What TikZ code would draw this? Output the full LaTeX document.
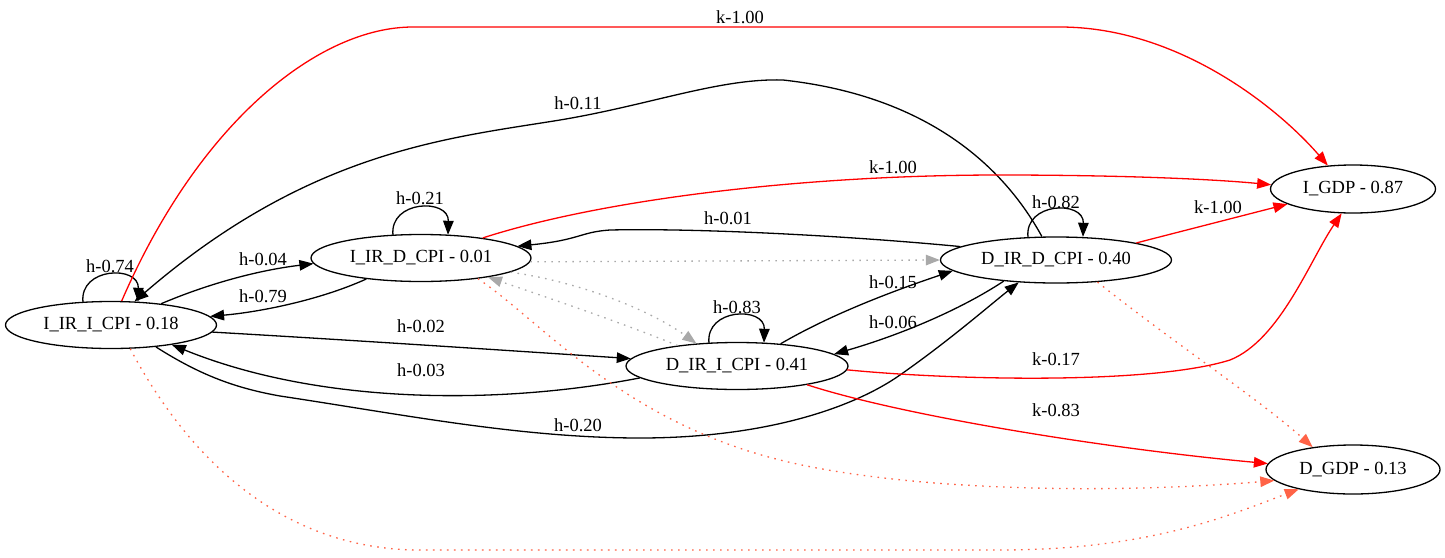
\documentclass[tikz,border=0pt]{standalone}
\usepackage{fontspec}
\setmainfont{Liberation Serif}
\usetikzlibrary{shapes.geometric,arrows.meta,calc}

\definecolor{kred}{HTML}{FF0000}
\definecolor{tomato}{HTML}{FF6347}
\definecolor{softgray}{HTML}{A9A9A9}

% self loop drawn on top of a state
\newcommand\selfloop[1]{%
  \draw[edge] ($(#1.center)+(-28,-22.6)$)
    .. controls ($(#1.center)+(-32,-58)$) and ($(#1.center)+(28,-60)$)
    .. ($(#1.center)+(27,-23.2)$);}

\begin{document}
\begin{tikzpicture}[x=1pt,y=-1pt,
  txt/.style={font=\fontsize{18.5}{20}\selectfont},
  state/.style={ellipse,draw,line width=1.3pt,inner sep=0pt,minimum height=47pt,txt},
  lbl/.style={inner sep=0pt,txt},
  edge/.style={-{Triangle[length=14pt,width=10.5pt]},line width=1.3pt,black},
  kedge/.style={edge,kred},
  dotedge/.style={edge,dash pattern=on 1.6pt off 5.4pt},
  grayedge/.style={dotedge,softgray},
  tomedge/.style={dotedge,tomato}]

\useasboundingbox (0,0) rectangle (1445,557);

% states
\node[state,minimum width=211pt] (A) at (111,325)   {I\_IR\_I\_CPI - 0.18};
\node[state,minimum width=220pt] (B) at (421,258)   {I\_IR\_D\_CPI - 0.01};
\node[state,minimum width=222pt] (C) at (737,366)   {D\_IR\_I\_CPI - 0.41};
\node[state,minimum width=231pt,minimum height=46pt] (D) at (1056,260) {D\_IR\_D\_CPI - 0.40};
\node[state,minimum width=165pt,minimum height=48pt] (E) at (1353,189) {I\_GDP - 0.87};
\node[state,minimum width=174pt,minimum height=49pt] (F) at (1353,469.5) {D\_GDP - 0.13};

% self loops
\selfloop{A}
\selfloop{B}
\selfloop{C}
\selfloop{D}

% h edges
\draw[edge] (D.121) .. controls (1000,160) and (920,95) .. (783,80)
  .. controls (720,78) and (650,105) .. (560,120)
  .. controls (450,138) and (310,150) .. (A.45);
\draw[edge] (D.172) .. controls (850,236) and (700,228) .. (610,230)
  .. controls (580,232) and (580,240) .. (B.7);
\draw[edge] (A.23) .. controls (210,283) and (260,270) .. (B.183);
\draw[edge] (B.201) .. controls (320,300) and (260,312) .. (A.5);
\draw[edge] (A.-4) .. controls (350,340) and (500,350) .. (C.176);
\draw[edge] (C.187) .. controls (500,405) and (320,405) .. (A.-18);
\draw[edge] (A.-26) .. controls (200,375) and (235,388) .. (280,396)
  .. controls (400,414) and (520,438) .. (640,438)
  .. controls (760,438) and (850,410) .. (900,375)
  .. controls (950,340) and (990,305) .. (D.211);
\draw[edge] (C.27) .. controls (830,315) and (890,292) .. (D.186);
\draw[edge] (D.202.5) .. controls (960,310) and (900,335) .. (C.7);

% k edges
\draw[kedge] (A.66) .. controls (200,120) and (320,27) .. (413,27) -- (1060,27)
  .. controls (1180,27) and (1280,110) .. (E.137);
\draw[kedge] (B.18) .. controls (600,200) and (800,175) .. (1000,175)
  .. controls (1100,175) and (1200,178) .. (E.177);
\draw[kedge] (D.12.5) -- (E.193);
\draw[kedge] (C.-2) .. controls (950,380) and (1150,385) .. (1230,360)
  .. controls (1280,340) and (1310,260) .. (E.245);
\draw[kedge] (C.-15) .. controls (900,415) and (1100,448) .. (F.176);

% dotted edges
\draw[grayedge] (B.-2) -- (D.180);
\draw[grayedge] (B.-9) .. controls (580,282) and (650,310) .. (C.151);
\draw[grayedge] (C.161) .. controls (620,322) and (540,295) .. (B.-16);
\draw[tomedge] (B.-20) .. controls (540,320) and (620,420) .. (780,460)
  .. controls (900,490) and (1100,495) .. (F.188);
\draw[tomedge] (A.-51) .. controls (200,480) and (300,550) .. (420,550) -- (1000,550)
  .. controls (1150,550) and (1230,515) .. (F.200);
\draw[tomedge] (D.-28) .. controls (1170,340) and (1260,400) .. (F.151);

% labels
\node[lbl] (lAE)  at (740,17)   {k-1.00};
\node[lbl] (lDA)  at (578,103)  {h-0.11};
\node[lbl] (lBE)  at (893,167)  {k-1.00};
\node[lbl] (lDB)  at (728,218)  {h-0.01};
\node[lbl] (lDE)  at (1218,207) {k-1.00};
\node[lbl] (lDD)  at (1056,202) {h-0.82};
\node[lbl] (lBB)  at (420,198)  {h-0.21};
\node[lbl] (lAA)  at (110,266)  {h-0.74};
\node[lbl] (lAB)  at (263,259)  {h-0.04};
\node[lbl] (lBA)  at (263,296)  {h-0.79};
\node[lbl] (lAC)  at (421,326)  {h-0.02};
\node[lbl] (lCA)  at (421,370)  {h-0.03};
\node[lbl] (lAD)  at (578,425)  {h-0.20};
\node[lbl] (lCC)  at (737,307)  {h-0.83};
\node[lbl] (lCD)  at (893,282)  {h-0.15};
\node[lbl] (lDC)  at (893,322)  {h-0.06};
\node[lbl] (lCE)  at (1056,359) {k-0.17};
\node[lbl] (lCF)  at (1056,410) {k-0.83};
\end{tikzpicture}
\end{document}
